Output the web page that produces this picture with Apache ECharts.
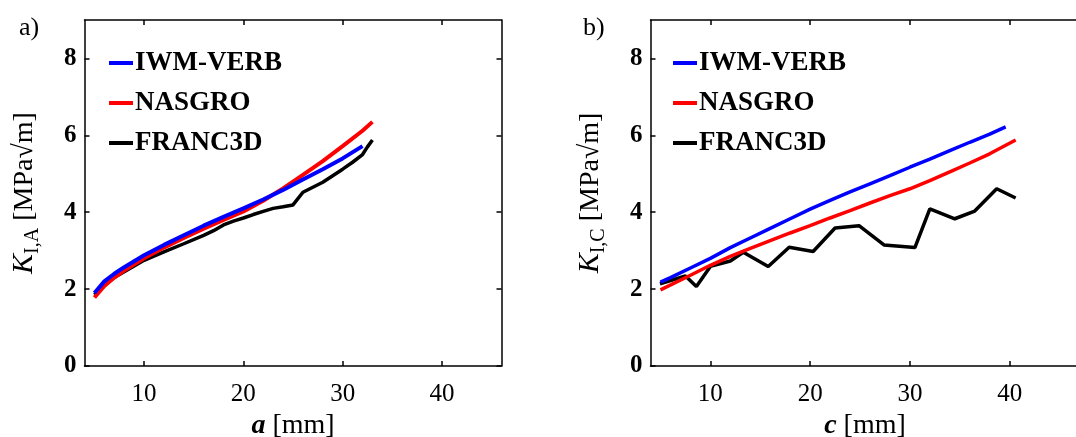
<!DOCTYPE html>
<html lang="en">
<head>
<meta charset="utf-8">
<title>K_I comparison</title>
<script src="https://cdn.jsdelivr.net/npm/echarts@6/dist/echarts.min.js"></script>
<style>
  html, body { margin: 0; padding: 0; background: #fff; }
  #chart { width: 1076px; height: 437px; }
</style>
</head>
<body>
<div id="chart"></div>
<script>
// ---- data ----
var seriesNames = ['IWM-VERB', 'NASGRO', 'FRANC3D'];
var xTicks = [10, 20, 30, 40];
var yTicks = [0, 2, 4, 6, 8];

// a) depth point A
var aIwm = [5, 6, 7, 8, 10, 12, 14, 16, 18, 20, 22, 24, 26, 28, 30, 32];
var kIwmA = [1.9, 2.2, 2.4, 2.57, 2.88, 3.15, 3.4, 3.65, 3.88, 4.1, 4.33, 4.58, 4.85, 5.12, 5.4, 5.72];
var aNas = [5, 6, 7, 8, 10, 12, 14, 16, 18, 20, 22, 24, 26, 28, 30, 32, 33];
var kNasA = [1.78, 2.08, 2.3, 2.48, 2.8, 3.08, 3.33, 3.57, 3.8, 4.02, 4.3, 4.62, 4.97, 5.33, 5.72, 6.12, 6.35];
var aFr = [5, 6, 7, 8, 10, 12, 14, 16, 17, 18, 19, 20, 21, 22, 23, 24, 25, 26, 27, 28, 29, 30, 31, 32, 32.5, 33];
var kFrA = [1.85, 2.12, 2.3, 2.45, 2.75, 2.97, 3.18, 3.4, 3.52, 3.67, 3.77, 3.85, 3.94, 4.02, 4.1, 4.14, 4.19, 4.52, 4.65, 4.78, 4.95, 5.12, 5.3, 5.5, 5.7, 5.88];

// b) surface point C
var cIwm = [5, 6, 8, 10, 12, 14, 16, 18, 20, 22, 24, 26, 28, 30, 32, 34, 36, 38, 39.6];
var kIwmC = [2.18, 2.3, 2.55, 2.8, 3.08, 3.33, 3.58, 3.83, 4.08, 4.31, 4.53, 4.74, 4.95, 5.17, 5.38, 5.6, 5.82, 6.03, 6.22];
var cNas = [5, 8, 10, 12, 14, 16, 18, 20, 22, 24, 26, 28, 30, 32, 34, 36, 38, 40.6];
var kNasC = [1.98, 2.36, 2.62, 2.85, 3.06, 3.26, 3.46, 3.65, 3.85, 4.04, 4.24, 4.43, 4.61, 4.82, 5.05, 5.28, 5.52, 5.88];
var cFr = [4.95, 7.5, 8.6, 10, 12, 13.3, 15.8, 17.9, 20.3, 22.5, 24.9, 27.4, 30.5, 32, 34.5, 36.5, 38.7, 40.6];
var kFrC = [2.14, 2.34, 2.07, 2.59, 2.73, 2.96, 2.59, 3.09, 2.98, 3.59, 3.65, 3.15, 3.08, 4.09, 3.83, 4.03, 4.61, 4.37];

var colors = ['#0000ff', '#ff0000', '#000000'];
var FONT = '"Liberation Serif", "Times New Roman", serif';

function pairs(xs, ys) {
    var out = [];
    for (var i = 0; i < xs.length; i++) out.push([xs[i], ys[i]]);
    return out;
}

function xAxisCfg(grid, pos, name, max) {
    var main = pos === 'bottom';
    return {
        type: 'value', gridIndex: grid, position: pos, min: 4, max: max,
        name: main ? name : '', nameLocation: 'middle', nameGap: 40,
        nameTextStyle: {
            fontFamily: FONT, fontSize: 28, color: '#000',
            rich: {
                i: { fontFamily: FONT, fontSize: 28, fontStyle: 'italic', fontWeight: 'bold', color: '#000' },
                n: { fontFamily: FONT, fontSize: 28, color: '#000' }
            }
        },
        axisLine: { show: true, onZero: false, lineStyle: { color: '#000', width: 1.5 } },
        axisTick: { show: true, inside: true, length: 5, customValues: xTicks, lineStyle: { color: '#000', width: 1.5 } },
        axisLabel: { show: main, customValues: xTicks, margin: 16, fontFamily: FONT, fontSize: 25, color: '#000' },
        splitLine: { show: false }
    };
}

function yAxisCfg(grid, pos, name, lineShow) {
    var main = pos === 'left';
    return {
        type: 'value', gridIndex: grid, position: pos, min: 0, max: 9,
        name: main ? name : '', nameLocation: 'middle', nameGap: 42,
        nameTextStyle: {
            fontFamily: FONT, fontSize: 28, color: '#000',
            rich: {
                k: { fontFamily: FONT, fontSize: 30, fontStyle: 'italic', color: '#000' },
                s: { fontFamily: FONT, fontSize: 20, color: '#000', padding: [16, 0, 0, 0] },
                n: { fontFamily: FONT, fontSize: 28, color: '#000' }
            }
        },
        axisLine: { show: lineShow, onZero: false, lineStyle: { color: '#000', width: 1.5 } },
        axisTick: { show: lineShow, inside: true, length: 5, customValues: yTicks, lineStyle: { color: '#000', width: 1.5 } },
        axisLabel: { show: main, customValues: yTicks, margin: 8, fontFamily: FONT, fontSize: 25, fontWeight: 'bold', color: '#000' },
        splitLine: { show: false }
    };
}

function lineSeries(name, data, axisIdx, width, idx) {
    return {
        type: 'line', name: name, data: data,
        xAxisIndex: axisIdx, yAxisIndex: axisIdx,
        showSymbol: false, symbol: 'none',
        color: colors[idx],
        lineStyle: { color: colors[idx], width: width },
        z: 3 - idx
    };
}

function legendCfg(left) {
    return {
        left: left, top: 43, orient: 'vertical', data: seriesNames,
        icon: 'rect', itemWidth: 24, itemHeight: 4, itemGap: 10,
        selectedMode: false,
        textStyle: { fontFamily: FONT, fontSize: 27, fontWeight: 'bold', color: '#000', lineHeight: 30, padding: [0, 0, 0, -3] }
    };
}

var option = {
    backgroundColor: '#fff',
    animation: false,
    title: [
        { text: 'a)', left: 14, top: 10, textStyle: { fontFamily: FONT, fontSize: 26, fontWeight: 'normal', color: '#000' } },
        { text: 'b)', left: 578, top: 10, textStyle: { fontFamily: FONT, fontSize: 26, fontWeight: 'normal', color: '#000' } }
    ],
    legend: [legendCfg(104), legendCfg(668)],
    grid: [
        { left: 84.5, top: 20, width: 417, height: 346, containLabel: false, outerBoundsMode: 'none' },
        { left: 650.5, top: 20, width: 429, height: 346, containLabel: false, outerBoundsMode: 'none' }
    ],
    xAxis: [
        xAxisCfg(0, 'bottom', '{i|a}{n| [mm]}', 46),
        xAxisCfg(0, 'top', '', 46),
        xAxisCfg(1, 'bottom', '{i|c}{n| [mm]}', 47),
        xAxisCfg(1, 'top', '', 47)
    ],
    yAxis: [
        yAxisCfg(0, 'left', '{k|K}{s|I,A}{n| [MPa√m]}', true),
        yAxisCfg(0, 'right', '', true),
        yAxisCfg(1, 'left', '{k|K}{s|I,C}{n| [MPa√m]}', true),
        yAxisCfg(1, 'right', '', false)
    ],
    series: [
        lineSeries('IWM-VERB', pairs(aIwm, kIwmA), 0, 4, 0),
        lineSeries('NASGRO', pairs(aNas, kNasA), 0, 4, 1),
        lineSeries('FRANC3D', pairs(aFr, kFrA), 0, 3.5, 2),
        lineSeries('IWM-VERB', pairs(cIwm, kIwmC), 2, 3.5, 0),
        lineSeries('NASGRO', pairs(cNas, kNasC), 2, 3.5, 1),
        lineSeries('FRANC3D', pairs(cFr, kFrC), 2, 3.5, 2)
    ]
};

var myChart = echarts.init(document.getElementById('chart'));
myChart.setOption(option);
</script>
</body>
</html>
